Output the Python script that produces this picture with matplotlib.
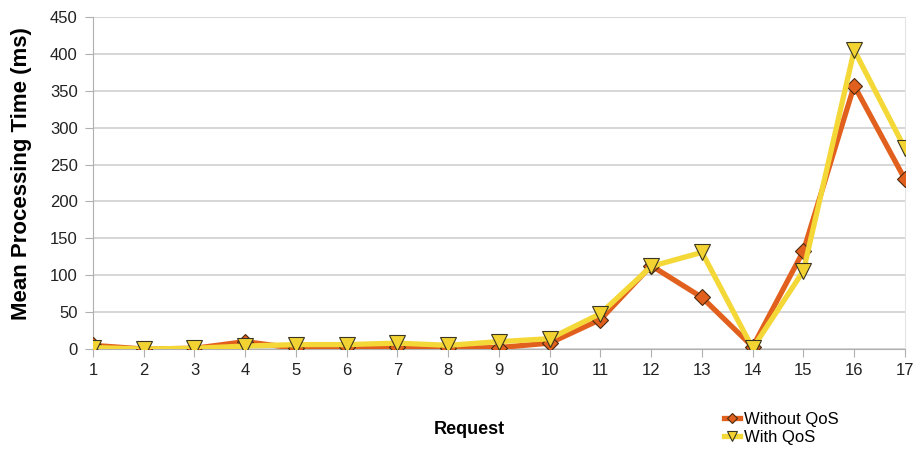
import matplotlib.pyplot as plt

plt.rcParams["font.family"] = ["Liberation Sans", "DejaVu Sans"]

requests = list(range(1, 18))
without_qos = [5, 0, 1, 10, 1, 3, 3, 1, 2, 8, 40, 113, 70, 3, 133, 357, 230]
with_qos = [2, 0, 1, 4, 6, 6, 8, 5, 10, 14, 48, 112, 131, 1, 106, 405, 272]

fig = plt.figure(figsize=(9.15, 4.5), dpi=100)
ax = fig.add_axes([0.1016, 0.2244, 0.8874, 0.7378])

ax.plot(requests, without_qos, color="#E2601E", linewidth=3.8, marker="D",
        markersize=8.5, markerfacecolor="#E2601E", markeredgecolor="#4a2a10",
        markeredgewidth=0.8, label="Without QoS", zorder=3)
ax.plot(requests, with_qos, color="#F4D838", linewidth=3.8, marker="v",
        markersize=11.5, markerfacecolor="#F2D332", markeredgecolor="#3a3520",
        markeredgewidth=0.8, label="With QoS", zorder=4)

ax.set_xlim(1, 17)
ax.set_ylim(0, 450)
ax.set_xticks(requests)
ax.set_yticks(range(0, 451, 50))
ax.tick_params(axis="both", labelsize=12, colors="#b0b0b0", labelcolor="#222222")
ax.tick_params(axis="x", length=6, pad=4)
ax.tick_params(axis="y", length=6, pad=5)
ax.grid(axis="y", color="#cfcfcf", linewidth=1.2)
ax.set_axisbelow(True)
ax.spines["top"].set_visible(False)
ax.spines["right"].set_color("#e4e4e4")
ax.spines["left"].set_color("#b0b0b0")
ax.spines["bottom"].set_color("#b0b0b0")

fig.text(0.023, 0.615, "Mean Processing Time (ms)", fontsize=16, fontweight="bold",
         rotation=90, ha="center", va="center")
fig.text(0.513, 0.035, "Request", fontsize=13, fontweight="bold", ha="center")

fig.legend(loc="lower left", bbox_to_anchor=(0.778, -0.014), frameon=False,
           fontsize=12, handlelength=1.0, handletextpad=0.2, labelspacing=0.15,
           borderpad=0.2, markerscale=0.6)

fig.savefig("out.png", dpi=100)
